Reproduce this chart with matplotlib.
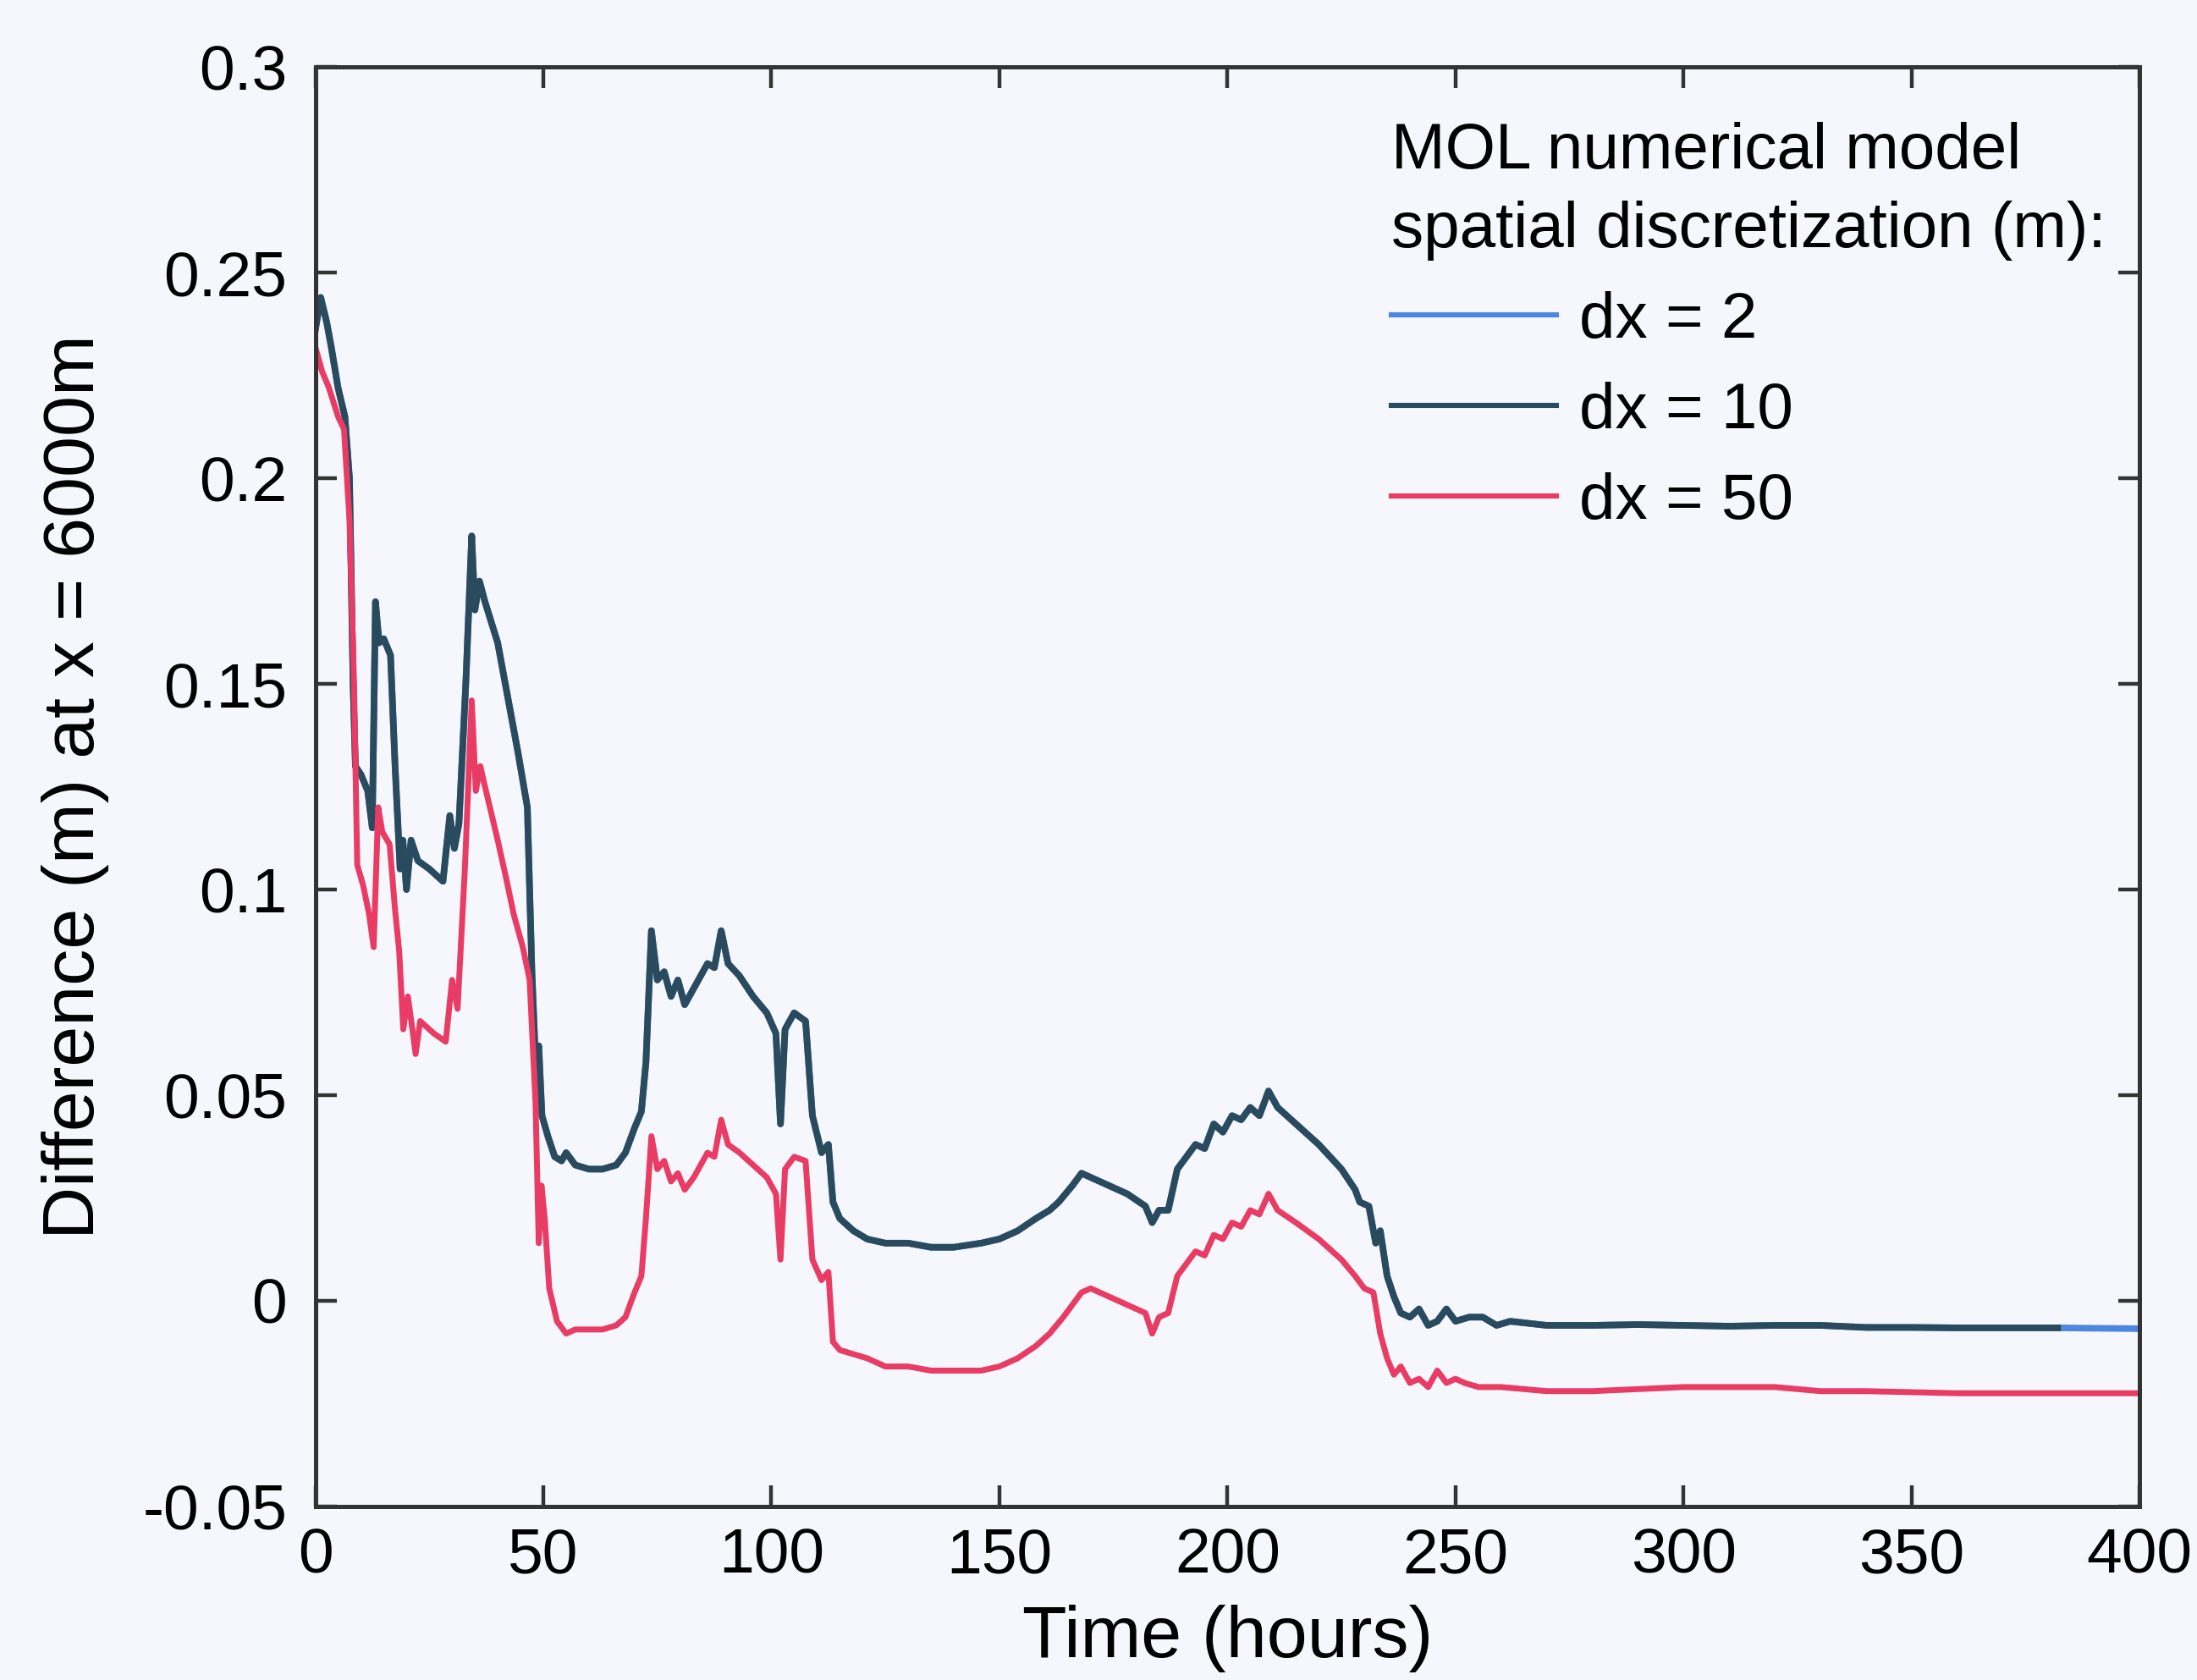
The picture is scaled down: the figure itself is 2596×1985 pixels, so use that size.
import matplotlib
matplotlib.use('Agg')
import matplotlib.pyplot as plt

# dx = 10 m (dark line)
t_dx10 = [0, 1.2, 2.5, 3.5, 5, 6.5, 7.5, 8.3, 8.8, 10, 11.5, 12.5, 13.2, 14, 15, 16.5, 17.5,
          18.6, 19.2, 20, 21, 22.5, 25, 28, 29.5, 30.5, 31.5, 33, 34.3, 35, 36, 37.2, 40, 42,
          44.5, 46.5, 47.5, 48.3, 49, 49.7, 51, 52.5, 54, 55, 57, 60, 63, 66, 68, 70, 71.5,
          72.5, 73.7, 75, 76.5, 78, 79.5, 81, 83, 84.5, 86, 87.5, 89, 90.5, 93, 96, 99, 101,
          102, 103, 105, 107.5, 109, 111, 112.5, 113.5, 115, 118, 121, 125, 130, 135, 140,
          146, 150, 154, 158, 161, 163, 166, 168, 170, 174, 178, 182, 183.5, 185, 187, 189,
          191, 193, 195, 197, 199, 201, 203, 205, 207, 209, 211, 215, 220, 225, 228, 229,
          231, 232.5, 233.5, 235, 236.5, 238, 240, 242, 244, 246, 248, 250, 253, 256, 259,
          262, 270, 280, 290, 300, 310, 320, 330, 340, 350, 360, 370, 382]
dx10 = [0.236, 0.244, 0.238, 0.232, 0.222, 0.215, 0.200, 0.150, 0.130, 0.128, 0.124, 0.115,
        0.170, 0.160, 0.161, 0.157, 0.130, 0.105, 0.112, 0.100, 0.112, 0.107, 0.105, 0.102,
        0.118, 0.110, 0.116, 0.150, 0.186, 0.168, 0.175, 0.170, 0.160, 0.148, 0.133, 0.120,
        0.080, 0.058, 0.062, 0.045, 0.040, 0.035, 0.034, 0.036, 0.033, 0.032, 0.032, 0.033,
        0.036, 0.042, 0.046, 0.058, 0.090, 0.078, 0.080, 0.074, 0.078, 0.072, 0.076, 0.079,
        0.082, 0.081, 0.090, 0.082, 0.079, 0.074, 0.070, 0.065, 0.043, 0.066, 0.070, 0.068,
        0.045, 0.036, 0.038, 0.024, 0.020, 0.017, 0.015, 0.014, 0.014, 0.013, 0.013, 0.014,
        0.015, 0.017, 0.020, 0.022, 0.024, 0.028, 0.031, 0.030, 0.028, 0.026, 0.023, 0.019,
        0.022, 0.022, 0.032, 0.035, 0.038, 0.037, 0.043, 0.041, 0.045, 0.044, 0.047, 0.045,
        0.051, 0.047, 0.043, 0.038, 0.032, 0.027, 0.024, 0.023, 0.014, 0.017, 0.006, 0.001,
        -0.003, -0.004, -0.002, -0.006, -0.005, -0.002, -0.005, -0.004, -0.004, -0.006,
        -0.005, -0.006, -0.006, -0.0058, -0.006, -0.0062, -0.006, -0.006, -0.0065, -0.0065,
        -0.0066, -0.0066, -0.0066]

# dx = 2 m sits under the dx = 10 line and runs on to 400 h
t_dx2 = t_dx10 + [390, 400]
dx2 = dx10 + [-0.0067, -0.0068]

# dx = 50 m
t_dx50 = [0, 1.5, 3, 5, 6.3, 7.5, 8.5, 9.2, 10.5, 11.8, 12.8, 13.8, 14.7, 16.3, 17.5, 18.4,
          19.3, 20.3, 21.3, 22, 23, 26, 28.6, 30, 31.2, 32.8, 34.3, 35.2, 36.2, 37, 40, 42,
          43.5, 45.5, 47, 48.3, 49, 49.6, 50.3, 51.3, 53, 55, 57, 60, 63, 66, 68, 70, 71.5,
          72.5, 73.7, 75, 76.5, 78, 79.5, 81, 83, 84.5, 86, 87.5, 89, 90.5, 93, 96, 99, 101,
          102, 103, 105, 107.5, 109, 111, 112.5, 113.5, 115, 118, 121, 125, 130, 135, 140,
          146, 150, 154, 158, 161, 164, 166, 168, 170, 174, 178, 182, 183.5, 185, 187, 189,
          191, 193, 195, 197, 199, 201, 203, 205, 207, 209, 211, 215, 220, 225, 228, 230,
          232, 233.5, 235, 236.5, 238, 240, 242, 244, 246, 248, 250, 252, 255, 260, 270,
          280, 290, 300, 310, 320, 330, 340, 360, 380, 400]
dx50 = [0.232, 0.226, 0.222, 0.215, 0.212, 0.190, 0.150, 0.106, 0.101, 0.094, 0.086, 0.120,
        0.114, 0.111, 0.095, 0.085, 0.066, 0.074, 0.066, 0.060, 0.068, 0.065, 0.063, 0.078,
        0.071, 0.105, 0.146, 0.124, 0.130, 0.126, 0.112, 0.102, 0.094, 0.086, 0.078, 0.048,
        0.014, 0.028, 0.020, 0.003, -0.005, -0.008, -0.007, -0.007, -0.007, -0.006, -0.004,
        0.002, 0.006, 0.020, 0.040, 0.032, 0.034, 0.029, 0.031, 0.027, 0.030, 0.033, 0.036,
        0.035, 0.044, 0.038, 0.036, 0.033, 0.030, 0.026, 0.010, 0.032, 0.035, 0.034, 0.010,
        0.005, 0.007, -0.010, -0.012, -0.013, -0.014, -0.016, -0.016, -0.017, -0.017,
        -0.017, -0.016, -0.014, -0.011, -0.008, -0.004, -0.001, 0.002, 0.003, 0.001, -0.001,
        -0.003, -0.008, -0.004, -0.003, 0.006, 0.009, 0.012, 0.011, 0.016, 0.015, 0.019,
        0.018, 0.022, 0.021, 0.026, 0.022, 0.019, 0.015, 0.010, 0.006, 0.003, 0.002,
        -0.008, -0.014, -0.018, -0.016, -0.020, -0.019, -0.021, -0.017, -0.020, -0.019,
        -0.020, -0.021, -0.021, -0.022, -0.022, -0.0215, -0.021, -0.021, -0.021, -0.022,
        -0.022, -0.0225, -0.0225, -0.0225]

x_ticks = [0, 50, 100, 150, 200, 250, 300, 350, 400]
y_ticks = [-0.05, 0, 0.05, 0.1, 0.15, 0.2, 0.25, 0.3]
y_labels = ['-0.05', '0', '0.05', '0.1', '0.15', '0.2', '0.25', '0.3']

plt.rcParams['font.family'] = ['Liberation Sans', 'DejaVu Sans']

bg = '#f5f7fc'
fig = plt.figure(figsize=(12.98, 9.925), dpi=200, facecolor=bg)
ax = fig.add_axes([0.1435, 0.1034, 0.8304, 0.8566], facecolor=bg)

ax.plot(t_dx2, dx2, color='#4f86e0', lw=2.8, label='dx = 2')
ax.plot(t_dx10, dx10, color='#2a4a5e', lw=2.8, label='dx = 10')
ax.plot(t_dx50, dx50, color='#e83c64', lw=2.5, label='dx = 50')

ax.set_xlim(0, 400)
ax.set_ylim(-0.05, 0.3)
ax.set_xticks(x_ticks)
ax.set_yticks(y_ticks)
ax.set_yticklabels(y_labels)
ax.tick_params(direction='in', length=9, width=1.6, top=True, right=True,
               labelsize=27, color='#333333')
ax.tick_params(axis='x', pad=9)
ax.tick_params(axis='y', pad=12)
for sp in ax.spines.values():
    sp.set_linewidth(1.8)
    sp.set_color('#333333')

ax.set_xlabel('Time (hours)', fontsize=31, labelpad=8)
ax.set_ylabel('Difference (m) at x = 6000m', fontsize=31, labelpad=14)

leg = ax.legend(title='MOL numerical model\nspatial discretization (m):',
                loc='upper left', bbox_to_anchor=(0.59, 0.962), borderaxespad=0,
                borderpad=0, frameon=False, fontsize=27.5, title_fontsize=27.5,
                handlelength=2.55, handletextpad=0.35, labelspacing=0.47,
                alignment='left')
leg.get_title().set_linespacing(1.4)
for line in leg.get_lines():
    line.set_linewidth(2.2)

fig.savefig('out.png', dpi=200, facecolor=bg)
